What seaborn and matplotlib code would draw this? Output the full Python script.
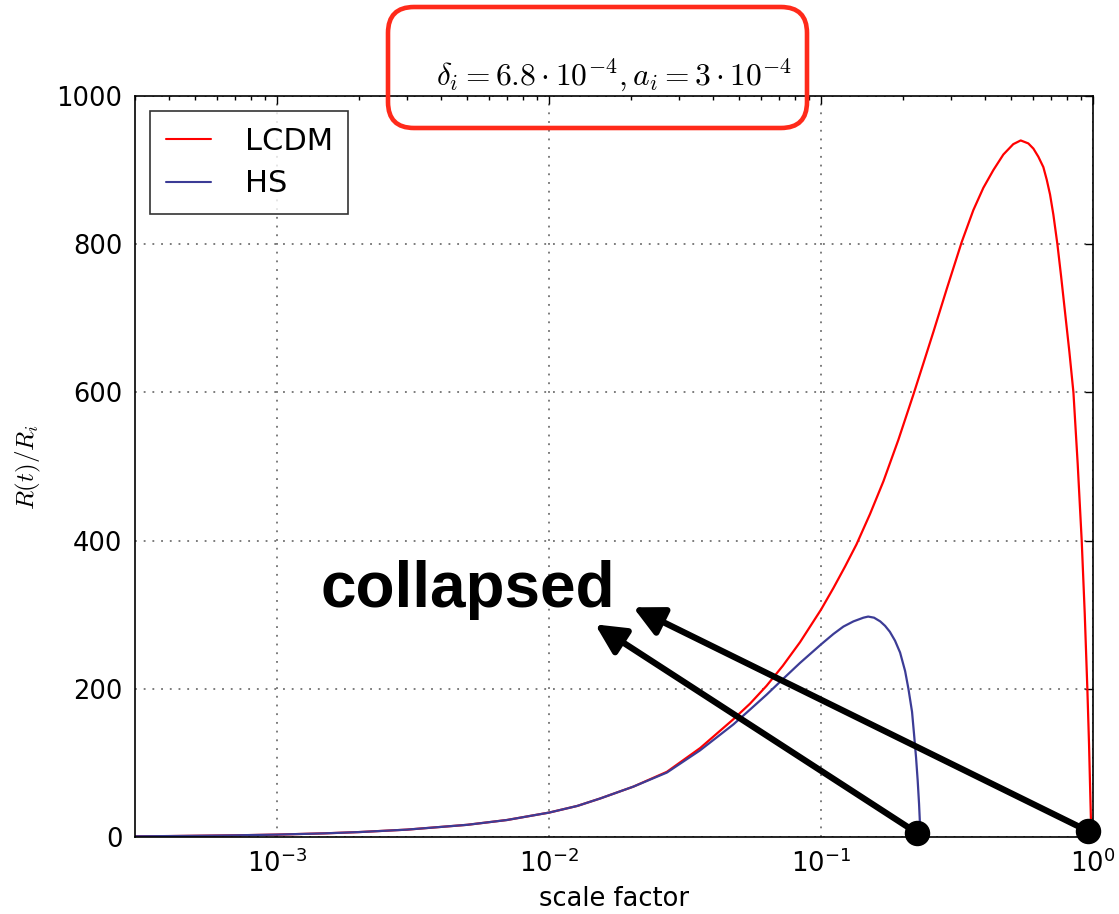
import numpy as np
import pandas as pd
import matplotlib
matplotlib.use("Agg")
import matplotlib.pyplot as plt
from matplotlib.patches import FancyBboxPatch
import seaborn as sns

# Scale factor samples and radius ratio R(t)/R_i for the LCDM run
a_lcdm = [3e-4, 4e-4, 5e-4, 7e-4, 1e-3, 1.5e-3, 2e-3, 3e-3, 5e-3, 7e-3,
          1e-2, 0.0127, 0.0154, 0.0204, 0.0271, 0.0359, 0.0476, 0.0548,
          0.063, 0.0723, 0.0837, 0.1, 0.111, 0.1225, 0.135, 0.1514, 0.1695,
          0.1924, 0.218, 0.2377, 0.259, 0.290, 0.329, 0.363, 0.395, 0.430,
          0.468, 0.509, 0.542, 0.578, 0.6035, 0.6294, 0.6566, 0.6757, 0.6949,
          0.7146, 0.7395, 0.7629, 0.789, 0.8183, 0.847, 0.878, 0.9085, 0.932,
          0.953, 0.9667, 0.975, 0.986]
r_lcdm = [1.0, 1.3, 1.7, 2.3, 3.3, 5.0, 6.7, 10, 16.5, 23,
          33, 42, 52, 68, 88, 120, 159, 180,
          204, 231, 263, 307, 336, 365, 395, 436, 480,
          536, 596, 639, 682, 740, 803, 846, 876, 900,
          921, 935, 940, 936, 929, 918, 904, 887, 867,
          840, 800, 757, 708, 655, 600, 504, 400, 302,
          200, 125, 70, 0]

# Same quantity for the HS model
a_hs = [3e-4, 4e-4, 5e-4, 7e-4, 1e-3, 1.5e-3, 2e-3, 3e-3, 5e-3, 7e-3,
        1e-2, 0.0127, 0.0154, 0.0204, 0.0271, 0.0359, 0.0476, 0.0548,
        0.063, 0.0723, 0.0837, 0.1, 0.111, 0.1208, 0.1315, 0.1431, 0.149,
        0.1566, 0.165, 0.1719, 0.179, 0.187, 0.1952, 0.2037, 0.2095, 0.216,
        0.2198, 0.2235, 0.2266, 0.2292, 0.2322]
r_hs = [1.0, 1.3, 1.7, 2.3, 3.3, 5.0, 6.7, 10, 16.5, 23,
        33, 42, 52, 68, 87, 117, 152, 172,
        192, 213, 235, 260, 274, 284, 291, 296, 297.5,
        296, 291, 285, 277, 265, 249, 224, 200, 169,
        138, 107, 76, 45, 0]

model_names = ["LCDM", "HS"]
model_colors = ["#ff0000", "#3c3c96"]

# Collapse markers and the arrow tips pointing at the label
collapse_a = [0.2254, 0.959]
collapse_r = [5.4, 8.0]
arrow_tip_a = [0.01476, 0.02037]
arrow_tip_r = [287, 310]

title_text = r"$\delta_i = 6.8\cdot10^{-4}, a_i = 3\cdot10^{-4}$"

df = pd.concat([
    pd.DataFrame({"a": a_lcdm, "R": r_lcdm, "model": model_names[0]}),
    pd.DataFrame({"a": a_hs, "R": r_hs, "model": model_names[1]}),
], ignore_index=True)

sns.set_theme(style="white")
plt.rcParams.update({
    "font.family": ["DejaVu Sans"],
    "mathtext.fontset": "cm",
    "axes.unicode_minus": False,
    "axes.edgecolor": "black",
    "axes.labelcolor": "black",
    "text.color": "black",
    "axes.linewidth": 1.2,
    "xtick.color": "black",
    "ytick.color": "black",
})

fig = plt.figure(figsize=(11.19, 9.14), dpi=100)
ax = fig.add_axes([0.1206, 0.0842, 0.8562, 0.8108])

sns.lineplot(data=df, x="a", y="R", hue="model", palette=model_colors,
             hue_order=model_names, estimator=None, sort=False,
             linewidth=1.6, ax=ax)

ax.set_xscale("log")
ax.set_xlim(3e-4, 1.0)
ax.set_ylim(0, 1000)
ax.set_yticks([0, 200, 400, 600, 800, 1000])

ax.grid(True, which="major", color="0.35", linestyle=(0, (1.2, 4.5)),
        linewidth=1.1)
ax.tick_params(which="both", direction="in", top=True, right=True,
               labelsize=18.5, colors="black")
ax.tick_params(which="major", length=6, width=1, pad=9)
ax.tick_params(which="minor", length=3, width=1)
ax.tick_params(axis="y", which="minor", left=False, right=False)

ax.set_xlabel("scale factor", fontsize=18.5, labelpad=6, color="black")
ax.set_ylabel(r"$R(t)/R_i$", fontsize=18, labelpad=10, color="black")
ax.set_title(title_text, fontsize=22.7, pad=8, color="black")

leg = ax.legend(loc="upper left", fontsize=22, frameon=True, fancybox=False,
                borderpad=0.5, labelspacing=0.45, handlelength=1.5,
                handletextpad=1.1, borderaxespad=0.5)
leg.get_frame().set_edgecolor("black")
leg.get_frame().set_linewidth(1.2)
for t in leg.get_texts():
    t.set_color("black")
for h in leg.get_lines():
    h.set_linewidth(1.5)

# Collapse points and arrows to the label
ax.scatter(collapse_a, collapse_r, s=300, color="black", zorder=6,
           clip_on=False)
for a0, r0, a1, r1 in zip(collapse_a, collapse_r, arrow_tip_a, arrow_tip_r):
    ax.annotate("", xy=(a1, r1), xytext=(a0, r0),
                arrowprops=dict(arrowstyle="-|>", color="black", lw=4.5,
                                mutation_scale=45, shrinkA=0, shrinkB=0),
                zorder=5)
ax.text(1.438e-3, 310, "collapsed", fontsize=46, fontweight="bold",
        family="Liberation Sans", va="baseline", ha="left", color="black")

# Rounded red frame around the title
box = FancyBboxPatch((388, 914 - 128), 419, 121,
                     boxstyle="round,pad=0,rounding_size=26",
                     transform=None, fill=False, edgecolor="#ff2a1a",
                     linewidth=3.3, zorder=10)
fig.add_artist(box)

fig.savefig("out.png", dpi=100)
